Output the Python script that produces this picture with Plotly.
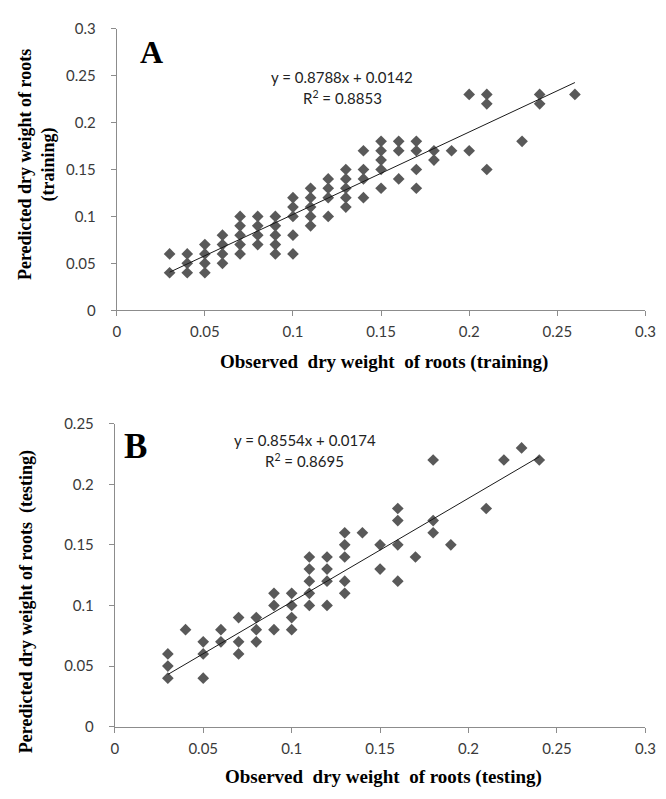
import plotly.graph_objects as go

# ---------------- data ----------------
obs_train = [0.03, 0.03,
             0.04, 0.04, 0.04,
             0.05, 0.05, 0.05, 0.05,
             0.06, 0.06, 0.06, 0.06,
             0.07, 0.07, 0.07, 0.07, 0.07,
             0.08, 0.08, 0.08, 0.08,
             0.09, 0.09, 0.09, 0.09, 0.09,
             0.10, 0.10, 0.10, 0.10, 0.10,
             0.11, 0.11, 0.11, 0.11, 0.11,
             0.12, 0.12, 0.12, 0.12,
             0.13, 0.13, 0.13, 0.13, 0.13,
             0.14, 0.14, 0.14, 0.14,
             0.15, 0.15, 0.15, 0.15, 0.15,
             0.16, 0.16, 0.16,
             0.17, 0.17, 0.17, 0.17,
             0.18, 0.18,
             0.19,
             0.20, 0.20,
             0.21, 0.21, 0.21,
             0.23,
             0.24, 0.24,
             0.26]
pred_train = [0.06, 0.04,
              0.06, 0.05, 0.04,
              0.07, 0.06, 0.05, 0.04,
              0.08, 0.07, 0.06, 0.05,
              0.10, 0.09, 0.08, 0.07, 0.06,
              0.10, 0.09, 0.08, 0.07,
              0.10, 0.09, 0.08, 0.07, 0.06,
              0.12, 0.11, 0.10, 0.08, 0.06,
              0.13, 0.12, 0.11, 0.10, 0.09,
              0.14, 0.13, 0.12, 0.10,
              0.15, 0.14, 0.13, 0.12, 0.11,
              0.17, 0.15, 0.14, 0.12,
              0.18, 0.17, 0.16, 0.15, 0.13,
              0.18, 0.17, 0.14,
              0.18, 0.17, 0.15, 0.13,
              0.17, 0.16,
              0.17,
              0.23, 0.17,
              0.23, 0.22, 0.15,
              0.18,
              0.23, 0.22,
              0.23]

obs_test = [0.03, 0.03, 0.03,
            0.04,
            0.05, 0.05, 0.05,
            0.06, 0.06,
            0.07, 0.07, 0.07,
            0.08, 0.08, 0.08,
            0.09, 0.09, 0.09,
            0.10, 0.10, 0.10, 0.10,
            0.11, 0.11, 0.11, 0.11, 0.11,
            0.12, 0.12, 0.12, 0.12,
            0.13, 0.13, 0.13, 0.13, 0.13,
            0.14,
            0.15, 0.15,
            0.16, 0.16, 0.16, 0.16,
            0.17,
            0.18, 0.18, 0.18,
            0.19,
            0.21,
            0.22,
            0.23,
            0.24]
pred_test = [0.06, 0.05, 0.04,
             0.08,
             0.07, 0.06, 0.04,
             0.08, 0.07,
             0.09, 0.07, 0.06,
             0.09, 0.08, 0.07,
             0.11, 0.10, 0.08,
             0.11, 0.10, 0.09, 0.08,
             0.14, 0.13, 0.12, 0.11, 0.10,
             0.14, 0.13, 0.12, 0.10,
             0.16, 0.15, 0.14, 0.12, 0.11,
             0.16,
             0.15, 0.13,
             0.18, 0.17, 0.15, 0.12,
             0.14,
             0.22, 0.17, 0.16,
             0.15,
             0.18,
             0.22,
             0.23,
             0.22]

slope_train, intercept_train, r2_train = 0.8788, 0.0142, 0.8853
slope_test, intercept_test, r2_test = 0.8554, 0.0174, 0.8695

tick_vals_x = [0, 0.05, 0.1, 0.15, 0.2, 0.25, 0.3]
tick_text_x = ["0", "0.05", "0.1", "0.15", "0.2", "0.25", "0.3"]
tick_vals_yA = [0, 0.05, 0.1, 0.15, 0.2, 0.25, 0.3]
tick_text_yA = ["0", "0.05", "0.1", "0.15", "0.2", "0.25", "0.3"]
tick_vals_yB = [0, 0.05, 0.1, 0.15, 0.2, 0.25]
tick_text_yB = ["0", "0.05", "0.1", "0.15", "0.2", "0.25"]

# ---------------- figure ----------------
W, H = 666, 799
MARK = "#595959"
AXC = "#8c8c8c"
TICKFONT = dict(family="Lato, Open Sans, sans-serif", size=15, color="#3a3a3a")
SERIF = "Liberation Serif, Times New Roman, serif"

fig = go.Figure()

fig.add_trace(go.Scatter(x=obs_train, y=pred_train, mode="markers",
                         marker=dict(symbol="diamond", size=9, color=MARK),
                         xaxis="x", yaxis="y", showlegend=False))
xa = [min(obs_train), max(obs_train)]
fig.add_trace(go.Scatter(x=xa, y=[slope_train * v + intercept_train for v in xa],
                         mode="lines", line=dict(color="#1a1a1a", width=1),
                         xaxis="x", yaxis="y", showlegend=False))

fig.add_trace(go.Scatter(x=obs_test, y=pred_test, mode="markers",
                         marker=dict(symbol="diamond", size=9, color=MARK),
                         xaxis="x2", yaxis="y2", showlegend=False))
xb = [min(obs_test), max(obs_test)]
fig.add_trace(go.Scatter(x=xb, y=[slope_test * v + intercept_test for v in xb],
                         mode="lines", line=dict(color="#1a1a1a", width=1),
                         xaxis="x2", yaxis="y2", showlegend=False))

axis_common = dict(showgrid=False, zeroline=False, showline=True, linecolor=AXC,
                   linewidth=1, ticks="outside", ticklen=5, tickcolor=AXC,
                   tickfont=TICKFONT)

def px_x(p):
    return p / W

def px_y(p):
    return 1 - p / H

fig.update_layout(
    width=W, height=H,
    margin=dict(l=0, r=0, t=0, b=0),
    paper_bgcolor="white", plot_bgcolor="white",
    xaxis=dict(domain=[px_x(107), px_x(647)], range=[0, 0.3], anchor="y",
               tickvals=tick_vals_x, ticktext=tick_text_x, ticklabelstandoff=3,
               **axis_common),
    yaxis=dict(domain=[px_y(299), px_y(11)], range=[0, 0.3], anchor="x",
               tickvals=tick_vals_yA, ticktext=tick_text_yA, ticklabelstandoff=12,
               **axis_common),
    xaxis2=dict(domain=[px_x(105), px_x(647)], range=[0, 0.3], anchor="y2",
                tickvals=tick_vals_x, ticktext=tick_text_x, ticklabelstandoff=3,
                **axis_common),
    yaxis2=dict(domain=[px_y(725), px_y(415)], range=[0, 0.25], anchor="x2",
                tickvals=tick_vals_yB, ticktext=tick_text_yB, ticklabelstandoff=12,
                **axis_common),
)

ann = []
def text(x, y, s, size, family, bold=False, angle=0, color="black"):
    ann.append(dict(x=px_x(x), y=px_y(y), xref="paper", yref="paper",
                    text=("<b>%s</b>" % s) if bold else s, showarrow=False,
                    xanchor="center", yanchor="middle", textangle=angle,
                    font=dict(size=size, family=family, color=color)))

# panel letters
text(142, 35, "A", 32, SERIF, bold=True)
text(126, 438, "B", 35, SERIF, bold=True)

# equations
EQF = "Lato, Open Sans, sans-serif"
text(337, 60, "y = %.4fx + %.4f" % (slope_train, intercept_train), 15, EQF, color="#222")
text(338, 81, "R<sup>2</sup> = %.4f" % r2_train, 15, EQF, color="#222")
text(299, 432, "y = %.4fx + %.4f" % (slope_test, intercept_test), 15, EQF, color="#222")
text(299, 453, "R<sup>2</sup> = %.4f" % r2_test, 15, EQF, color="#222")

# axis titles
text(380, 352, "Observed  dry weight  of roots (training)", 19, SERIF, bold=True)
text(379, 777, "Observed  dry weight  of roots (testing)", 19, SERIF, bold=True)
text(25, 150, "Peredicted dry weight of roots<br>(training)", 18, SERIF, bold=True, angle=-90)
text(15, 597, "Peredicted dry weight of roots  (testing)", 18, SERIF, bold=True, angle=-90)

fig.update_layout(annotations=ann)

fig.write_html("out.html")
